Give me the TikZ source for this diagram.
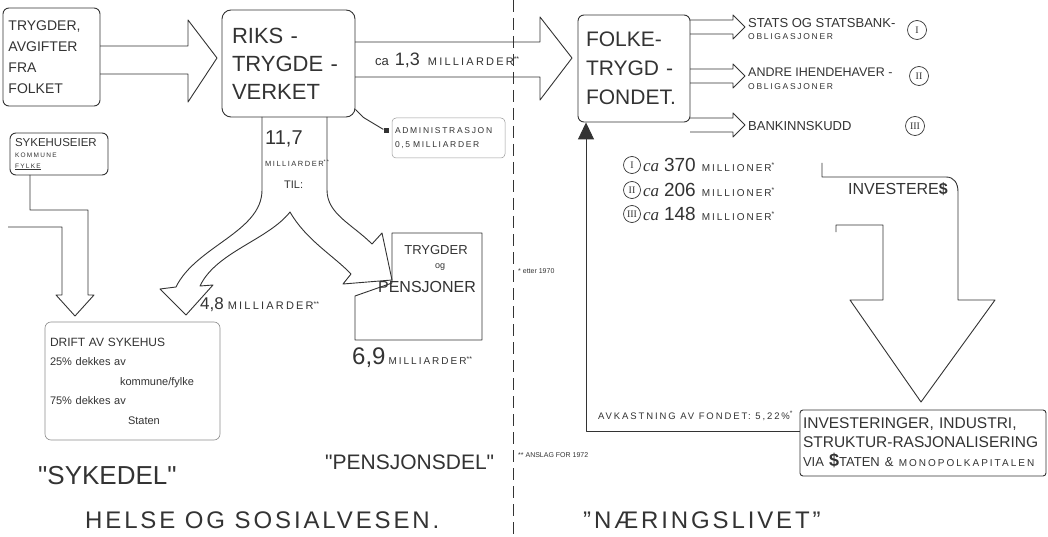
\documentclass[tikz,border=0pt]{standalone}
\usepackage{fontspec}
\setmainfont{Liberation Sans}
\newfontfamily\wfont[LetterSpace=20]{Liberation Sans}
\newfontfamily\capsfont[LetterSpace=12]{Liberation Sans}
\newfontfamily\qfont[Ligatures=TeXOff]{Liberation Sans}
\newfontfamily\romfont{Liberation Serif}
\usepackage{tikz}
\usetikzlibrary{arrows.meta,calc}
\newcommand{\fsz}[2]{\fontsize{#1}{#2}\selectfont}

\tikzset{
  ink/.style={draw=black!80, line width=0.9pt, line join=round},
  box/.style={ink, rounded corners=6pt, inner sep=0pt, align=left, text=black!80},
  txt/.style={inner sep=0pt, text=black!80},
  rom/.style={circle, draw=black!80, line width=0.7pt, inner sep=0.8pt, minimum size=17pt, font=\romfont\fsz{10}{10}, text=black!80},
}

\begin{document}
\begin{tikzpicture}[x=1pt,y=-1pt]
\fill[white] (0,0) rectangle (1048,537);
\useasboundingbox (0,0) rectangle (1048,537);

\node[box, minimum width=97pt, minimum height=98pt, text width=86pt, font=\fsz{14}{21}] (folk) at (51.5,57) {TRYGDER,\\AVGIFTER\\FRA\\FOLKET};
\draw[ink] (100,46) -- (188,46) -- (188,20) -- (217,58) -- (188,102) -- (188,74) -- (100,74);

\node[box, rounded corners=9pt, minimum width=133pt, minimum height=107pt, text width=113pt, font=\fsz{22}{28}] (riks) at (288.5,63.5) {RIKS -\\TRYGDE -\\VERKET};

\draw[ink] (355,42) -- (540,42) -- (540,17) -- (572,58) -- (540,100) -- (540,77) -- (355,77);
\node[txt, anchor=west] (sum13) at (375,60) {{\fsz{13}{13}ca}\hspace{6pt}{\fsz{18}{18}1,3}\hspace{8pt}{\wfont\fsz{11}{11}MILLIARDER}\textsuperscript{**}};

\node[box, draw=black!40, line width=0.5pt, rounded corners=4pt, minimum width=113pt, minimum height=40pt, text width=107pt, font=\wfont\fsz{8.5}{14}] (admin) at (448.5,138) {ADMINISTRASJON\\0,5 MILLIARDER};
\node[fill=black!80, minimum size=5pt, inner sep=0pt] (sq) at (386,131) {};
\draw[ink] ($(riks.south east)+(0,-8)$) -- ++(8,8) -- (sq);

\draw[ink, line width=0.6pt, dash pattern=on 12pt off 6pt] (513,0) -- (513,537);

\draw[ink] (262,117) -- (262,190) .. controls (262,232) and (196,246) .. (176,287) -- (160,289) -- (186,315) -- (213,285) -- (200,286) .. controls (216,252) and (268,240) .. (290,212) .. controls (306,240) and (334,256) .. (351,274) -- (343,284) -- (392,280) -- (382,233) -- (372,244) .. controls (352,224) and (327,214) .. (327,190) -- (327,117);
\node[txt, anchor=west, font=\fsz{20}{20}] (sum117) at (265,139) {11,7};
\node[txt, anchor=west, font=\wfont\fsz{7.5}{8}] (mrd) at (265,163) {MILLIARDER\textsuperscript{**}};
\node[txt, anchor=west, font=\fsz{11}{11}] (til) at (284,185) {TIL:};
\node[txt, anchor=west] (sum48) at (200,305) {{\fsz{17}{17}4,8}\hspace{4pt}{\wfont\fsz{11}{11}MILLIARDER}\textsuperscript{**}};

\draw[ink] (392,233) -- (482,233) -- (482,340) -- (355,340) -- (355,296) -- (392,283) -- cycle;
\node[txt, font=\fsz{13}{13}] (pensa) at (436,250) {TRYGDER};
\node[txt, font=\fsz{9}{9}] (pensb) at (440,267) {og};
\node[txt, font=\fsz{16}{16}] (pensc) at (427,287) {PENSJONER};
\node[txt, anchor=west] (sum69) at (352,358) {{\fsz{24}{24}6,9}\hspace{3pt}{\wfont\fsz{10}{10}MILLIARDER}\textsuperscript{**}};

\node[box, minimum width=98pt, minimum height=42pt, text width=88pt, font=\fsz{11.5}{11}] (eier) at (59,154) {SYKEHUSEIER\\{\wfont\fsz{6.5}{8}KOMMUNE}\\{\wfont\fsz{6.5}{8}\underline{FYLKE}}};
\draw[ink] (30,175) -- (30,210) -- (88,210) -- (88,295) -- (94,295) -- (75,316) -- (56,295) -- (62,295) -- (62,227) -- (8,227);

\node[box, draw=black!45, line width=0.6pt, minimum width=175pt, minimum height=118pt, text width=165pt, font=\fsz{11}{19.5}] (drift) at (132.5,381) {{\fsz{12}{19.5}DRIFT AV SYKEHUS}\\25\% dekkes av\\\hspace*{70pt}kommune/fylke\\75\% dekkes av\\\hspace*{78pt}Staten};

\node[txt, anchor=west, font=\qfont\fsz{26}{26}] (syk) at (38,476) {"SYKEDEL"};
\node[txt, anchor=west, font=\qfont\fsz{21}{21}] (pensdel) at (325,462) {"PENSJONSDEL"};
\node[txt, anchor=west, font=\capsfont\fsz{24}{24}] (helse) at (85,520) {HELSE OG SOSIALVESEN.};
\node[txt, anchor=west, font=\capsfont\fsz{24}{24}] (naer) at (583,520) {”NÆRINGSLIVET”};
\node[txt, anchor=west, font=\fsz{7}{7}] (note1) at (518,271) {* etter 1970};
\node[txt, anchor=west, font=\fsz{7}{7}] (note2) at (518,455) {** ANSLAG FOR 1972};

\node[box, minimum width=112pt, minimum height=107pt, text width=96pt, font=\fsz{21}{29}] (fond) at (634,68.5) {FOLKE-\\TRYGD -\\FONDET.};
\foreach \yy in {27,76,125}
  \draw[ink] (690,\yy-7) -- (733,\yy-7) -- (733,\yy-12) -- (745,\yy) -- (733,\yy+12) -- (733,\yy+7) -- (690,\yy+7);
\node[txt, anchor=west, font=\fsz{13}{13}] (stat) at (748,23) {STATS OG STATSBANK-};
\node[txt, anchor=west, font=\wfont\fsz{8.5}{8.5}] (obla) at (748,37) {OBLIGASJONER};
\node[txt, anchor=west, font=\fsz{12.5}{12.5}] (andre) at (748,72) {ANDRE IHENDEHAVER -};
\node[txt, anchor=west, font=\wfont\fsz{8.5}{8.5}] (oblb) at (748,87) {OBLIGASJONER};
\node[txt, anchor=west, font=\fsz{13}{13}] (bank) at (748,126) {BANKINNSKUDD};
\node[rom, minimum size=19pt] (rI) at (917,30) {I};
\node[rom, minimum size=19pt] (rII) at (919,76) {II};
\node[rom, minimum size=19pt] (rIII) at (915,126) {III};

\foreach \n/\yy/\val in {I/165/370,II/190/206,III/214/148}{
  \node[rom] (a\n) at (632,\yy) {\n};
  \node[txt, anchor=west] (v\n) at ([xshift=2pt]a\n.east) {{\romfont\itshape\fsz{17}{17}ca}\hspace{5pt}{\fsz{19}{19}\val}\hspace{6pt}{\wfont\fsz{10}{10}MILLIONER}\textsuperscript{*}};
}
\node[txt, anchor=west, font=\fsz{16}{16}] (inv) at (848,189) {INVESTERE{\bfseries\$}};
\draw[ink] (822,163) -- (822,177) -- (946,177) .. controls (954,177) and (958,183) .. (958,192) -- (958,300) -- (995,300) -- (921,402) -- (850,300) -- (883,300) -- (883,225) -- (836,225) -- (836,232);

\node[box, rounded corners=3pt, minimum width=246pt, minimum height=66pt, text width=240pt, font=\fsz{15.5}{19}] (invest) at (923,443) {INVESTERINGER, INDUSTRI,\\STRUKTUR-RASJONALISERING\\{\fsz{13}{19}VIA {\bfseries\fsz{18}{19}\$}TATEN \& {\wfont\fsz{10}{19}MONOPOLKAPITALEN}}};

\coordinate (retn) at (586,431);
\draw[ink, -{Triangle[width=16pt,length=17pt]}] (invest.west |- retn) -- (retn) -- (retn |- fond.south);
\node[txt, anchor=west, font=\wfont\fsz{9.5}{9.5}] (avk) at (598,416) {AVKASTNING AV FONDET: 5,22\%\textsuperscript{*}};
\end{tikzpicture}
\end{document}
